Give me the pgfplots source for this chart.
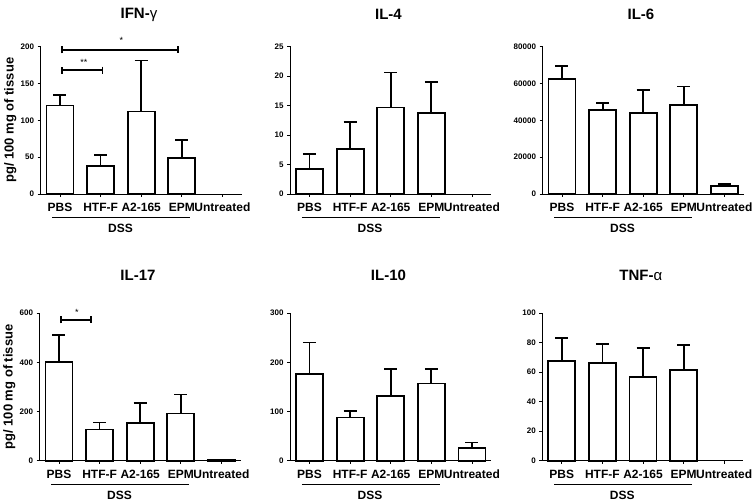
\documentclass[border=0pt]{standalone}
\usepackage{pgfplots}
\pgfplotsset{compat=1.18}
\usepackage{fontspec}
\setmainfont{Liberation Sans}
\usetikzlibrary{arrows.meta}

\pgfplotsset{
  panel/.style={
    scale only axis, width=201pt, height=147.5pt,
    xmin=-0.48, xmax=4.47, ymin=0,
    axis lines=left, axis line style={-, line width=0.8pt},
    xtick={0,...,4}, xticklabels={PBS,HTF-F,A2-165,EPM,Untreated},
    tick align=outside, major tick length=3pt,
    tick style={line width=0.8pt, black},
    xticklabel style={font=\bfseries\fontsize{12}{12}\selectfont, anchor=north, inner sep=0pt, yshift=-6pt},
    yticklabel style={font=\bfseries\fontsize{8}{8}\selectfont},
    /pgf/number format/assume math mode=true,
    /pgf/number format/1000 sep={},
    scaled y ticks=false,
    ylabel style={at={(axis description cs:-0.15,0.5)}, anchor=center,
                  font=\bfseries\fontsize{13}{13}\selectfont},
    clip=false,
  },
  bars/.style={ybar, bar width=27pt, fill=white, draw=black, line width=1.8pt,
    error bars/.cd, y dir=plus, y explicit,
    error bar style={line width=1.8pt, black},
    error mark options={rotate=90, mark size=6.5pt, line width=1.8pt, black}},
}
\tikzset{sig/.style={line width=1.8pt, {Bar[width=7pt]}-{Bar[width=7pt]}}}
\newcommand{\dss}{%
  \draw[line width=0.8pt] ([yshift=-23.5pt]axis cs:-0.19,0) -- ([yshift=-23.5pt]axis cs:3.21,0);
  \node[font=\bfseries\fontsize{12}{12}\selectfont] at ([yshift=-34.5pt]axis cs:1.49,0) {DSS};}
\newcommand{\ttl}[2]{%
  \node[font=\bfseries\fontsize{15}{15}\selectfont] at ([yshift=#2]rel axis cs:0.49,1) {#1};}

\begin{document}
\begin{tikzpicture}
\useasboundingbox (0,0) rectangle (753pt,501pt);

% row 1
\begin{axis}[panel, at={(40.5pt,307pt)}, anchor=south west,
    ymax=200, ytick={0,50,...,200}, ylabel={pg/ 100 mg of tissue}]
\addplot[bars] coordinates {
  (0,120) +- (0,14.4)
  (1,38.5) +- (0,14.5)
  (2,111.8) +- (0,69.2)
  (3,49.3) +- (0,23.6)
};
\draw[sig] (axis cs:0.03,195.5) -- (axis cs:2.92,195.5);
\draw[sig] (axis cs:0.03,168) -- (axis cs:1.07,168);
\node[font=\fontsize{9}{9}\selectfont] at (axis cs:1.51,208) {*};
\node[font=\fontsize{9}{9}\selectfont] at (axis cs:0.59,178) {**};
\ttl{IFN-{\mdseries γ}}{31.7pt}
\dss
\end{axis}

\begin{axis}[panel, at={(290pt,307pt)}, anchor=south west,
    ymax=25, ytick={0,5,...,25}]
\addplot[bars] coordinates {
  (0,4.3) +- (0,2.5)
  (1,7.6) +- (0,4.6)
  (2,14.65) +- (0,5.95)
  (3,13.7) +- (0,5.25)
};
\ttl{IL-4}{31.7pt}
\dss
\end{axis}

\begin{axis}[panel, at={(542.5pt,307pt)}, anchor=south west,
    ymax=80000, ytick={0,20000,...,80000}]
\addplot[bars] coordinates {
  (0,62300) +- (0,7000)
  (1,45600) +- (0,3600)
  (2,43800) +- (0,12700)
  (3,48300) +- (0,10000)
  (4,4350) +- (0,1250)
};
\ttl{IL-6}{31.7pt}
\dss
\end{axis}

% row 2
\begin{axis}[panel, at={(39.5pt,40.3pt)}, anchor=south west,
    ymax=600, ytick={0,200,...,600}, ylabel={pg/ 100 mg of tissue}]
\addplot[bars] coordinates {
  (0,401) +- (0,110)
  (1,127) +- (0,28)
  (2,153) +- (0,82)
  (3,192) +- (0,77)
  (4,3) +- (0,1)
};
\draw[sig] (axis cs:0.03,573) -- (axis cs:0.81,573);
\node[font=\fontsize{9}{9}\selectfont] at (axis cs:0.44,604) {*};
\ttl{IL-17}{37.7pt}
\dss
\end{axis}

\begin{axis}[panel, at={(290pt,40.3pt)}, anchor=south west,
    ymax=300, ytick={0,100,...,300}]
\addplot[bars] coordinates {
  (0,177) +- (0,63.5)
  (1,88) +- (0,13)
  (2,132) +- (0,54)
  (3,157) +- (0,30)
  (4,26) +- (0,11)
};
\ttl{IL-10}{37.7pt}
\dss
\end{axis}

\begin{axis}[panel, at={(542.3pt,40.3pt)}, anchor=south west,
    ymax=100, ytick={0,20,...,100}]
\addplot[bars] coordinates {
  (0,67.6) +- (0,15.5)
  (1,66) +- (0,13.3)
  (2,56.5) +- (0,19.9)
  (3,61.5) +- (0,16.7)
};
\ttl{TNF-{\mdseries α}}{37.7pt}
\dss
\end{axis}
\end{tikzpicture}
\end{document}
